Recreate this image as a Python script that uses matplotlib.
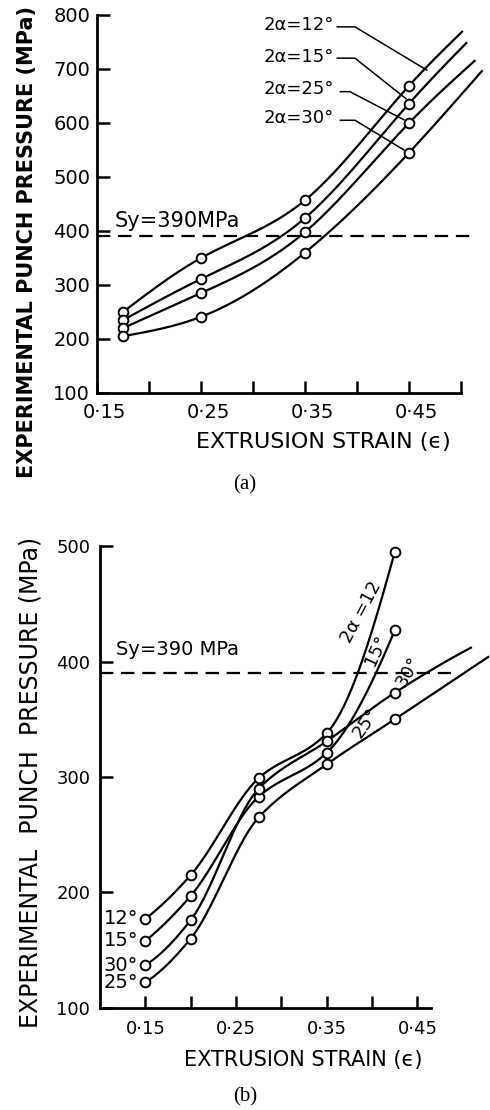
import numpy as np
import matplotlib.pyplot as plt
import matplotlib.transforms as mtransforms

plt.rcParams['font.family'] = ['DejaVu Sans']

###### (a) punch pressure, first die set

strain_a = [0.175, 0.25, 0.35, 0.45]
press_a_12 = [250, 350, 457, 669]
press_a_15 = [235, 311, 424, 636]
press_a_25 = [220, 285, 398, 600]
press_a_30 = [205, 241, 360, 545]
# where each curve runs out on the right
tail_a_x = [0.501, 0.505, 0.513, 0.520]
tail_a_y = [769, 748, 715, 696]
labels_a = ['2α=12°', '2α=15°', '2α=25°', '2α=30°']

###### (b) punch pressure, second die set

strain_b = [0.15, 0.20, 0.275, 0.35, 0.425]
press_b_12 = [177, 215, 299, 338, 495]
press_b_15 = [158, 197, 283, 321, 427]
press_b_30 = [137, 176, 290, 331, 373]
press_b_25 = [122, 160, 265, 311, 350]
tail_b_x = [None, None, 0.509, 0.528]
tail_b_y = [None, None, 412, 404]
labels_b = ['12°', '15°', '30°', '25°']

sy = 390


def pchip(xs, ys, n=40):
    # monotone cubic through the read points
    x = np.asarray(xs, float)
    y = np.asarray(ys, float)
    h = np.diff(x)
    d = np.diff(y) / h
    m = np.zeros_like(y)
    for k in range(1, len(x) - 1):
        if d[k-1] * d[k] > 0:
            w1 = 2*h[k] + h[k-1]
            w2 = h[k] + 2*h[k-1]
            m[k] = (w1 + w2) / (w1/d[k-1] + w2/d[k])
    m[0] = ((2*h[0] + h[1])*d[0] - h[0]*d[1]) / (h[0] + h[1])
    if m[0] * d[0] <= 0:
        m[0] = 0
    m[-1] = ((2*h[-1] + h[-2])*d[-1] - h[-1]*d[-2]) / (h[-1] + h[-2])
    if m[-1] * d[-1] <= 0:
        m[-1] = 0
    return hermite(x, y, m, n)


def natural(xs, ys, n=40):
    # natural cubic spline through the read points
    x = np.asarray(xs, float)
    y = np.asarray(ys, float)
    h = np.diff(x)
    N = len(x)
    A = np.zeros((N, N))
    r = np.zeros(N)
    A[0, 0] = A[-1, -1] = 1
    for i in range(1, N - 1):
        A[i, i-1] = h[i-1]
        A[i, i] = 2*(h[i-1] + h[i])
        A[i, i+1] = h[i]
        r[i] = 6*((y[i+1] - y[i])/h[i] - (y[i] - y[i-1])/h[i-1])
    M = np.linalg.solve(A, r)
    # slopes at the knots from the second derivatives
    m = np.zeros(N)
    for i in range(N - 1):
        m[i] = (y[i+1] - y[i])/h[i] - h[i]*(2*M[i] + M[i+1])/6
    m[-1] = (y[-1] - y[-2])/h[-1] + h[-1]*(M[-2] + 2*M[-1])/6
    return hermite(x, y, m, n)


def hermite(x, y, m, n):
    h = np.diff(x)
    t = np.linspace(0, 1, n)
    h00 = 2*t**3 - 3*t**2 + 1
    h10 = t**3 - 2*t**2 + t
    h01 = -2*t**3 + 3*t**2
    h11 = t**3 - t**2
    cx, cy = [], []
    for k in range(len(x) - 1):
        cx.extend(x[k] + t*h[k])
        cy.extend(h00*y[k] + h10*h[k]*m[k] + h01*y[k+1] + h11*h[k]*m[k+1])
    return cx, cy


def style(ax):
    ax.spines['top'].set_visible(False)
    ax.spines['right'].set_visible(False)
    for s in ['left', 'bottom']:
        ax.spines[s].set_linewidth(2.0)
    ax.tick_params(which='both', direction='in', length=9, width=1.8)
    ax.tick_params(axis='y', pad=5)


fig = plt.figure(figsize=(4.9, 11.1), dpi=100)

# ---------------- (a)
ax = fig.add_axes([0.198, 0.646, 0.796, 0.3405])
style(ax)
ax.set_xlim(0.15, 0.525)
ax.set_ylim(100, 800)
ax.spines['bottom'].set_bounds(0.15, 0.50)
ax.set_yticks(range(100, 801, 100))
ax.set_xticks([0.15, 0.25, 0.35, 0.45])
ax.set_xticklabels(['0·15', '0·25', '0·35', '0·45'])
ax.set_xticks([0.20, 0.30, 0.40, 0.50], minor=True)
ax.tick_params(axis='x', pad=7, labelsize=14)
ax.tick_params(axis='y', labelsize=14)
shift = mtransforms.ScaledTranslation(0.07, 0, fig.dpi_scale_trans)
for lab in ax.get_xticklabels():
    lab.set_transform(lab.get_transform() + shift)

series_a = [press_a_12, press_a_15, press_a_25, press_a_30]
for k, ys in enumerate(series_a):
    cx, cy = natural(strain_a + [tail_a_x[k]], ys + [tail_a_y[k]])
    ax.plot(cx, cy, color='black', lw=1.6, clip_on=False)
    ax.plot(strain_a, ys, 'o', ms=7, mfc='white', mec='black', mew=1.4, clip_on=False)

ax.plot([0.15, 0.513], [sy, sy], color='black', lw=1.6, dashes=(6, 3.5))
ax.text(0.167, 400, 'Sy=390MPa', fontsize=15, ha='left', va='bottom')

# leader lines from the angle labels
label_y = [781, 722, 663, 609]
leaders = [
    ([0.381, 0.398, 0.467], [778, 778, 698]),
    ([0.381, 0.398, 0.447], [720, 720, 645]),
    ([0.384, 0.393, 0.445], [658, 658, 606]),
    ([0.384, 0.398, 0.446], [605, 605, 549]),
]
for lab, yy, (lx, ly) in zip(labels_a, label_y, leaders):
    ax.text(0.310, yy, lab, fontsize=13, ha='left', va='center')
    ax.plot(lx, ly, color='black', lw=1.1)

fig.text(0.055, 1 - 242/1110, 'EXPERIMENTAL PUNCH PRESSURE (MPa)', rotation=90,
         ha='center', va='center', fontsize=15, fontweight='bold')
fig.text(0.659, 1 - 442/1110, 'EXTRUSION STRAIN (ϵ)', ha='center', va='center', fontsize=16)
fig.text(0.5, 1 - 485/1110, '(a)', ha='center', va='center', fontsize=15,
         family='Liberation Serif')

# ---------------- (b)
ax = fig.add_axes([0.204, 0.092, 0.796, 0.416])
style(ax)
ax.set_xlim(0.10, 0.530)
ax.set_ylim(100, 500)
ax.spines['bottom'].set_bounds(0.10, 0.465)
ax.set_yticks(range(100, 501, 100))
ax.set_xticks([0.15, 0.25, 0.35, 0.45])
ax.set_xticklabels(['0·15', '0·25', '0·35', '0·45'])
ax.set_xticks([0.20, 0.30, 0.40], minor=True)
ax.tick_params(axis='x', pad=9, labelsize=13)
ax.tick_params(axis='y', labelsize=13, pad=7)

series_b = [press_b_12, press_b_15, press_b_30, press_b_25]
for k, ys in enumerate(series_b):
    xs, yv = list(strain_b), list(ys)
    if tail_b_x[k] is not None:
        xs.append(tail_b_x[k])
        yv.append(tail_b_y[k])
    cx, cy = pchip(xs, yv)
    ax.plot(cx, cy, color='black', lw=1.6, clip_on=False)
    ax.plot(strain_b, ys, 'o', ms=7, mfc='white', mec='black', mew=1.4, clip_on=False)
    ax.text(0.142, ys[0], labels_b[k], fontsize=14, ha='right', va='center')

ax.plot([0.10, 0.493], [sy, sy], color='black', lw=1.6, dashes=(6, 3.5))
ax.text(0.118, 402, 'Sy=390 MPa', fontsize=14, ha='left', va='bottom')

ax.text(0.388, 443, '2α =12', fontsize=13, rotation=62, ha='center', va='center')
ax.text(0.405, 410, '15°', fontsize=13, rotation=65, ha='center', va='center')
ax.text(0.440, 391, '30°', fontsize=13, rotation=60, ha='center', va='center')
ax.text(0.393, 347, '25°', fontsize=13, rotation=55, ha='center', va='center')

fig.text(0.063, 1 - 782/1110, 'EXPERIMENTAL  PUNCH  PRESSURE (MPa)', rotation=90,
         ha='center', va='center', fontsize=17)
fig.text(0.618, 1 - 1060/1110, 'EXTRUSION STRAIN (ϵ)', ha='center', va='center', fontsize=15)
fig.text(0.5, 1 - 1097/1110, '(b)', ha='center', va='center', fontsize=15,
         family='Liberation Serif')

fig.savefig('out.png', dpi=100)
